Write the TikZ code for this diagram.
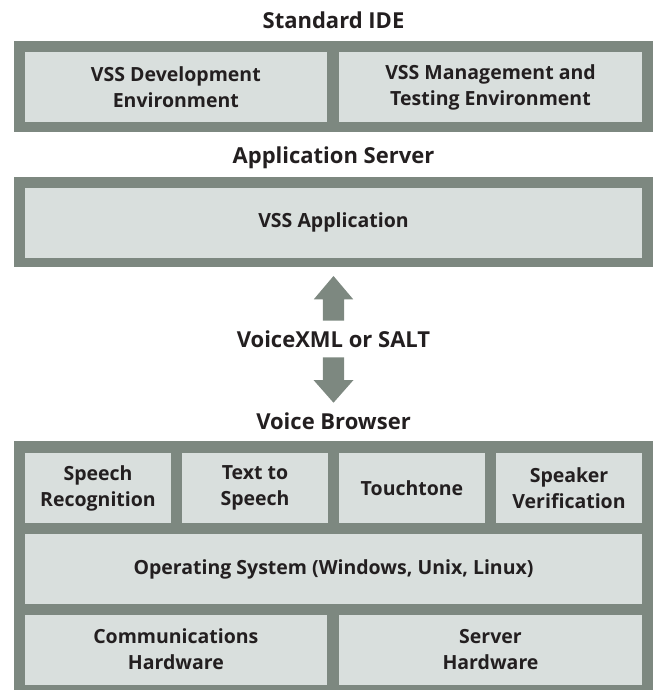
\documentclass[tikz,border=0pt]{standalone}
\usepackage{fontspec}
\setmainfont{Open Sans}
\definecolor{outerc}{RGB}{125,136,128}
\definecolor{innerc}{RGB}{217,223,221}
\definecolor{txtc}{RGB}{35,31,32}
\begin{document}
\begin{tikzpicture}[x=1pt,y=-1pt,
  outerbox/.style={fill=outerc, draw=none, inner sep=0pt},
  innerbox/.style={fill=innerc, draw=none, text=txtc, align=center, inner sep=0pt,
    font=\bfseries\fontsize{19.5}{26}\selectfont},
  titletext/.style={text=txtc, anchor=base, inner sep=0pt,
    font=\bfseries\fontsize{22}{26}\selectfont},
  arrowshape/.style={fill=outerc, draw=none}]
\useasboundingbox (0,0) rectangle (653,690);

% Standard IDE
\node[titletext] (tide) at (333.5,28.3) {Standard IDE};
\node[outerbox, minimum width=639pt, minimum height=90.7pt] (ide) at (333.5,86.35) {};
\node[innerbox, minimum width=301.7pt, minimum height=70pt] (dev) at (175.85,87.5) {VSS Development\\Environment};
\node[innerbox, minimum width=303pt, minimum height=70pt] (mgmt) at (490.5,87.5) {VSS Management and\\Testing Environment};

% Application Server
\node[titletext] (tapp) at (333.5,163) {Application Server};
\node[outerbox, minimum width=639pt, minimum height=90.3pt] (appsrv) at (333.5,222.15) {};
\node[innerbox, minimum width=617pt, minimum height=69.7pt] (app) at (333.5,222.85) {VSS Application};

% arrows and protocol
\fill[arrowshape] (333.5,276) -- (353.2,299.3) -- (344.2,299.3) -- (344.2,320.7)
  -- (322.8,320.7) -- (322.8,299.3) -- (313.8,299.3) -- cycle;
\node[titletext] (proto) at (333.5,347) {VoiceXML or SALT};
\fill[arrowshape] (322.8,357.3) -- (344.2,357.3) -- (344.2,380) -- (353.5,380)
  -- (333.5,402.7) -- (313.5,380) -- (322.8,380) -- cycle;

% Voice Browser
\node[titletext] (tvb) at (333.5,429.3) {Voice Browser};
\node[outerbox, minimum width=639pt, minimum height=249pt] (vb) at (333.5,565.5) {};
\node[innerbox, minimum width=146pt, minimum height=70pt] (sr) at (98,488) {Speech\\Recognition};
\node[innerbox, minimum width=146pt, minimum height=70pt] (tts) at (255,488) {Text to\\Speech};
\node[innerbox, minimum width=146pt, minimum height=70pt] (tt) at (412,487.7) {Touchtone};
\node[innerbox, minimum width=146pt, minimum height=70pt] (sv) at (569,488) {Speaker\\Verification};
\node[innerbox, minimum width=617pt, minimum height=70pt] (os) at (333.5,569) {Operating System (Windows, Unix, Linux)};
\node[innerbox, minimum width=301.7pt, minimum height=70pt] (ch) at (175.85,649.5) {Communications\\Hardware};
\node[innerbox, minimum width=303pt, minimum height=70pt] (sh) at (490.5,649.5) {Server\\Hardware};
\end{tikzpicture}
\end{document}
